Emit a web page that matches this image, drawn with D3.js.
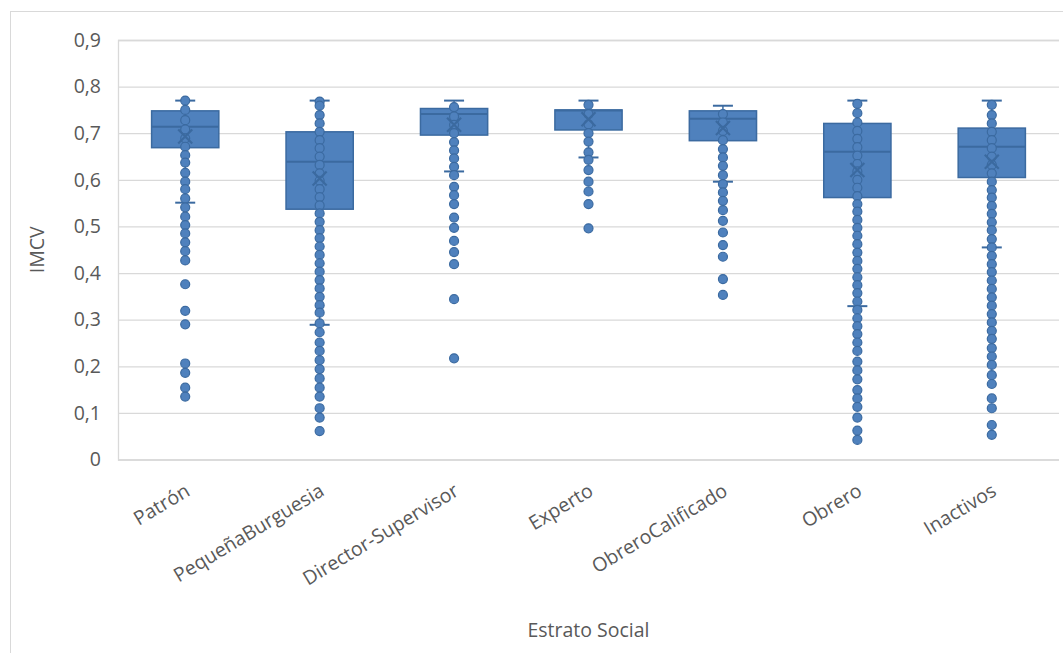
<!DOCTYPE html>
<html>
<head>
<meta charset="utf-8">
<script src="https://cdn.jsdelivr.net/npm/d3@7/dist/d3.min.js"></script>
<style>
  html, body { margin: 0; padding: 0; background: #ffffff; }
  svg { display: block; }
  text { font-family: "Open Sans", "Noto Sans", sans-serif; fill: #595959; }
</style>
</head>
<body>
<svg id="chart" width="1063" height="653"></svg>
<script>
// Social strata on the x axis
const categories = ["Patrón", "PequeñaBurguesia", "Director-Supervisor", "Experto",
                    "ObreroCalificado", "Obrero", "Inactivos"];

// Box statistics per stratum (IMCV index)
const q1          = [0.669, 0.537, 0.696, 0.707, 0.684, 0.562, 0.605];
const median      = [0.714, 0.639, 0.741, 0.749, 0.731, 0.660, 0.671];
const q3          = [0.748, 0.703, 0.753, 0.750, 0.748, 0.721, 0.711];
const whiskerLow  = [0.551, 0.289, 0.618, 0.648, 0.596, 0.329, 0.455];
const whiskerHigh = [0.770, 0.770, 0.770, 0.770, 0.759, 0.770, 0.770];
const mean        = [0.693, 0.603, 0.718, 0.730, 0.711, 0.621, 0.639];

// Individual observations drawn as dots
const pointsPatron = [0.770, 0.750, 0.728, 0.708, 0.689, 0.671, 0.653, 0.637, 0.615, 0.596,
  0.580, 0.560, 0.541, 0.521, 0.503, 0.485, 0.466, 0.447, 0.427, 0.376, 0.319, 0.290,
  0.206, 0.186, 0.154, 0.135];
const pointsPequena = [0.768, 0.759, 0.739, 0.721, 0.703, 0.685, 0.668, 0.650, 0.632, 0.614,
  0.598, 0.580, 0.563, 0.545, 0.528, 0.510, 0.492, 0.475, 0.457, 0.439, 0.421, 0.403,
  0.385, 0.367, 0.349, 0.331, 0.315, 0.292, 0.273, 0.251, 0.233, 0.213, 0.194, 0.174,
  0.154, 0.135, 0.110, 0.090, 0.061];
const pointsDirector = [0.756, 0.736, 0.718, 0.700, 0.681, 0.663, 0.646, 0.628, 0.610, 0.585,
  0.567, 0.548, 0.519, 0.497, 0.469, 0.445, 0.419, 0.344, 0.217];
const pointsExperto = [0.761, 0.741, 0.719, 0.700, 0.682, 0.659, 0.643, 0.621, 0.596, 0.575,
  0.548, 0.496];
const pointsObreroCal = [0.741, 0.723, 0.705, 0.685, 0.666, 0.648, 0.630, 0.610, 0.591, 0.573,
  0.555, 0.535, 0.512, 0.487, 0.460, 0.435, 0.387, 0.353];
const pointsObrero = [0.763, 0.743, 0.723, 0.705, 0.688, 0.670, 0.652, 0.634, 0.618, 0.600,
  0.583, 0.565, 0.548, 0.532, 0.514, 0.497, 0.480, 0.462, 0.444, 0.426, 0.409, 0.391,
  0.374, 0.357, 0.339, 0.321, 0.303, 0.286, 0.269, 0.251, 0.233, 0.210, 0.191, 0.172,
  0.149, 0.131, 0.113, 0.090, 0.062, 0.042];
const pointsInactivos = [0.761, 0.739, 0.721, 0.703, 0.685, 0.668, 0.650, 0.632, 0.614, 0.596,
  0.578, 0.562, 0.544, 0.527, 0.509, 0.492, 0.473, 0.455, 0.437, 0.419, 0.402, 0.384,
  0.366, 0.348, 0.330, 0.312, 0.294, 0.276, 0.259, 0.239, 0.221, 0.203, 0.181, 0.162,
  0.131, 0.110, 0.074, 0.053];
const pointSets = [pointsPatron, pointsPequena, pointsDirector, pointsExperto,
                   pointsObreroCal, pointsObrero, pointsInactivos];

const yTicks = [0, 0.1, 0.2, 0.3, 0.4, 0.5, 0.6, 0.7, 0.8, 0.9];

const fill = "#4f81bd";
const edge = "#3b6aa0";

const svg = d3.select("#chart");
const plot = { left: 118, right: 1059, top: 40, bottom: 459.5 };

// Outer chart frame
svg.append("rect")
  .attr("x", 10.5).attr("y", 11.5)
  .attr("width", 1200).attr("height", 800)
  .attr("fill", "#ffffff").attr("stroke", "#d9d9d9").attr("stroke-width", 1);

const x = d3.scaleBand().domain(categories).range([plot.left, plot.right]);
const y = d3.scaleLinear().domain([0, 0.9]).range([plot.bottom, plot.top]);

const locale = d3.formatLocale({ decimal: ",", thousands: ".", grouping: [3], currency: ["", "€"] });
const fmt = v => v === 0 ? "0" : locale.format(".1f")(v);

// Horizontal gridlines and value labels
const yAxis = d3.axisLeft(y).tickValues(yTicks).tickFormat(fmt)
  .tickSize(-(plot.right - plot.left)).tickPadding(17);
const gy = svg.append("g").attr("transform", `translate(${plot.left},0)`).call(yAxis);
gy.select(".domain").attr("stroke", "#d9d9d9").attr("stroke-width", 1.3);
gy.selectAll(".tick line").attr("stroke", "#d9d9d9").attr("stroke-width", 1.3);
gy.selectAll(".tick text").attr("font-size", 19.5).attr("fill", "#595959")
  .attr("font-family", "Open Sans");

// Category labels
const xAxis = d3.axisBottom(x).tickSize(0).tickPadding(0);
const gx = svg.append("g").attr("transform", `translate(0,${plot.bottom})`).call(xAxis);
gx.select(".domain").remove();
gx.selectAll(".tick text")
  .attr("font-size", 19.5).attr("fill", "#595959").attr("font-family", "Open Sans")
  .attr("text-anchor", "end").attr("dy", null).attr("y", null)
  .attr("transform", "translate(6,35) rotate(-31)");

// Axis titles
svg.append("text").attr("x", (plot.left + plot.right) / 2).attr("y", 637)
  .attr("text-anchor", "middle").attr("font-size", 19.5).text("Estrato Social");
svg.append("text").attr("transform", `translate(44,${(plot.top + plot.bottom) / 2}) rotate(-90)`)
  .attr("text-anchor", "middle").attr("font-size", 19.5).text("IMCV");

const bw = x.bandwidth() * 0.5;
const capW = 20;

const groups = svg.append("g").selectAll("g").data(categories).join("g")
  .attr("transform", d => `translate(${x(d) + x.bandwidth() / 2},0)`);

// Boxes
groups.append("rect")
  .attr("x", -bw / 2).attr("width", bw)
  .attr("y", (d, i) => y(q3[i]))
  .attr("height", (d, i) => y(q1[i]) - y(q3[i]))
  .attr("fill", fill).attr("stroke", edge).attr("stroke-width", 1.5);

// Median line
groups.append("line")
  .attr("x1", -bw / 2).attr("x2", bw / 2)
  .attr("y1", (d, i) => y(median[i])).attr("y2", (d, i) => y(median[i]))
  .attr("stroke", edge).attr("stroke-width", 2);

// Whiskers
groups.append("line")
  .attr("x1", 0).attr("x2", 0)
  .attr("y1", (d, i) => y(q3[i])).attr("y2", (d, i) => y(whiskerHigh[i]))
  .attr("stroke", edge).attr("stroke-width", 1.5);
groups.append("line")
  .attr("x1", 0).attr("x2", 0)
  .attr("y1", (d, i) => y(q1[i])).attr("y2", (d, i) => y(whiskerLow[i]))
  .attr("stroke", edge).attr("stroke-width", 1.5);
groups.append("line")
  .attr("x1", -capW / 2).attr("x2", capW / 2)
  .attr("y1", (d, i) => y(whiskerHigh[i])).attr("y2", (d, i) => y(whiskerHigh[i]))
  .attr("stroke", edge).attr("stroke-width", 2);
groups.append("line")
  .attr("x1", -capW / 2).attr("x2", capW / 2)
  .attr("y1", (d, i) => y(whiskerLow[i])).attr("y2", (d, i) => y(whiskerLow[i]))
  .attr("stroke", edge).attr("stroke-width", 2);

// Data points
groups.each(function (d, i) {
  d3.select(this).selectAll("circle").data(pointSets[i]).join("circle")
    .attr("cx", 0).attr("cy", v => y(v)).attr("r", 4.5)
    .attr("fill", fill).attr("stroke", edge).attr("stroke-width", 1.2);
});

// Mean markers
const m = 7;
groups.append("path")
  .attr("d", (d, i) => {
    const cy = y(mean[i]);
    return `M${-m},${cy - m}L${m},${cy + m}M${-m},${cy + m}L${m},${cy - m}`;
  })
  .attr("fill", "none").attr("stroke", edge).attr("stroke-width", 2.2);
</script>
</body>
</html>
